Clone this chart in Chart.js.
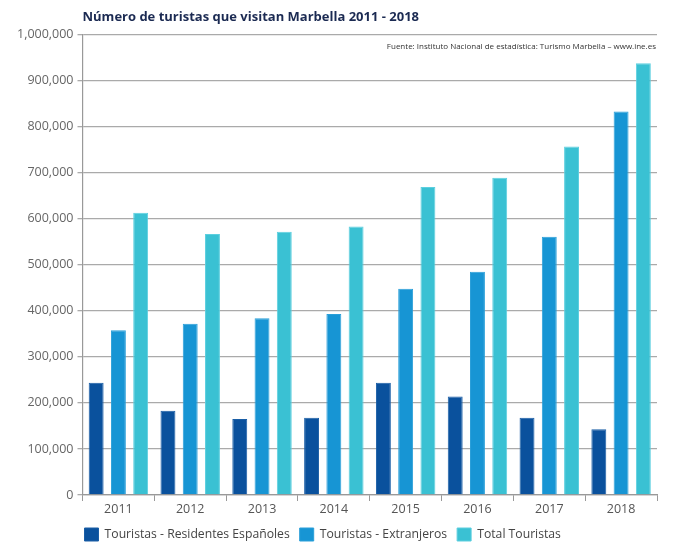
<!DOCTYPE html>
<html>
<head>
<meta charset="utf-8">
<script src="https://cdn.jsdelivr.net/npm/chart.js@4.4.1/dist/chart.umd.min.js"></script>
<style>
  html, body { margin: 0; padding: 0; background: #fff; }
  #wrap { width: 691px; height: 555px; }
</style>
</head>
<body>
<div id="wrap"><canvas id="chart" width="691" height="555"></canvas></div>
<script>
// Data
const years = ['2011', '2012', '2013', '2014', '2015', '2016', '2017', '2018'];
const residentes = [244000, 183000, 165000, 168000, 244000, 214000, 168000, 143000];
const extranjeros = [358000, 372000, 384000, 393000, 448000, 485000, 561000, 833000];
const total = [613000, 567000, 572000, 583000, 669000, 689000, 757000, 938000];
const seriesNames = ['Touristas - Residentes Españoles', 'Touristas - Extranjeros', 'Total Touristas'];
const yMax = 1000000;
const yStep = 100000;

const titleText = 'Número de turistas que visitan Marbella 2011 - 2018';
const sourceText = 'Fuente: Instituto Nacional de estadística: Turismo Marbella – www.ine.es';

const FONT = '"Open Sans", "DejaVu Sans", sans-serif';

// Draw the source note inside the plot, top right
const sourceNote = {
  id: 'sourceNote',
  afterDraw(chart) {
    const ctx = chart.ctx;
    const area = chart.chartArea;
    ctx.save();
    ctx.font = '8px ' + FONT;
    ctx.fillStyle = '#333';
    ctx.textAlign = 'right';
    ctx.textBaseline = 'middle';
    ctx.fillText(sourceText, area.right - 1, area.top + 12);
    ctx.restore();
  }
};

// Nudge the legend so it starts under the y axis line
const legendShift = {
  id: 'legendShift',
  afterLayout(chart) {
    const lg = chart.legend;
    lg.left -= 8;
    lg.right -= 8;
  }
};

new Chart(document.getElementById('chart'), {
  type: 'bar',
  data: {
    labels: years,
    datasets: [
      { label: seriesNames[0], data: residentes, backgroundColor: '#0a519d', borderColor: '#1a5ea6', borderWidth: 1 },
      { label: seriesNames[1], data: extranjeros, backgroundColor: '#1795d4', borderColor: '#2a9fd9', borderWidth: 1 },
      { label: seriesNames[2], data: total, backgroundColor: '#3ac1d3', borderColor: '#5ccfdf', borderWidth: 1 }
    ]
  },
  options: {
    responsive: false,
    animation: false,
    layout: { padding: { left: 13, right: 34, top: 4, bottom: 4 } },
    datasets: {
      bar: { categoryPercentage: 0.93, barPercentage: 0.67 }
    },
    plugins: {
      title: {
        display: true,
        text: titleText,
        align: 'start',
        fullSize: false,
        color: '#1b2a52',
        font: { family: FONT, size: 13, weight: 'bold' },
        padding: { top: 5, bottom: 10 }
      },
      legend: {
        position: 'bottom',
        align: 'start',
        fullSize: false,
        labels: {
          boxWidth: 14,
          boxHeight: 13,
          padding: 10,
          color: '#444',
          font: { family: FONT, size: 12.2 }
        }
      },
      tooltip: { enabled: false }
    },
    scales: {
      x: {
        grid: {
          display: true,
          drawOnChartArea: false,
          tickLength: 6,
          color: '#999'
        },
        border: { color: '#999', width: 1.2 },
        ticks: {
          color: '#555',
          font: { family: FONT, size: 12.5 },
          padding: 1
        }
      },
      y: {
        min: 0,
        max: yMax,
        ticks: {
          stepSize: yStep,
          color: '#666',
          font: { family: FONT, size: 12.5 },
          padding: 4,
          callback: function(value) {
            return value.toLocaleString('en-US');
          }
        },
        grid: {
          color: '#aaa',
          lineWidth: 1.3,
          tickLength: 5
        },
        border: { color: '#999', width: 1.2 }
      }
    }
  },
  plugins: [sourceNote, legendShift]
});
</script>
</body>
</html>
